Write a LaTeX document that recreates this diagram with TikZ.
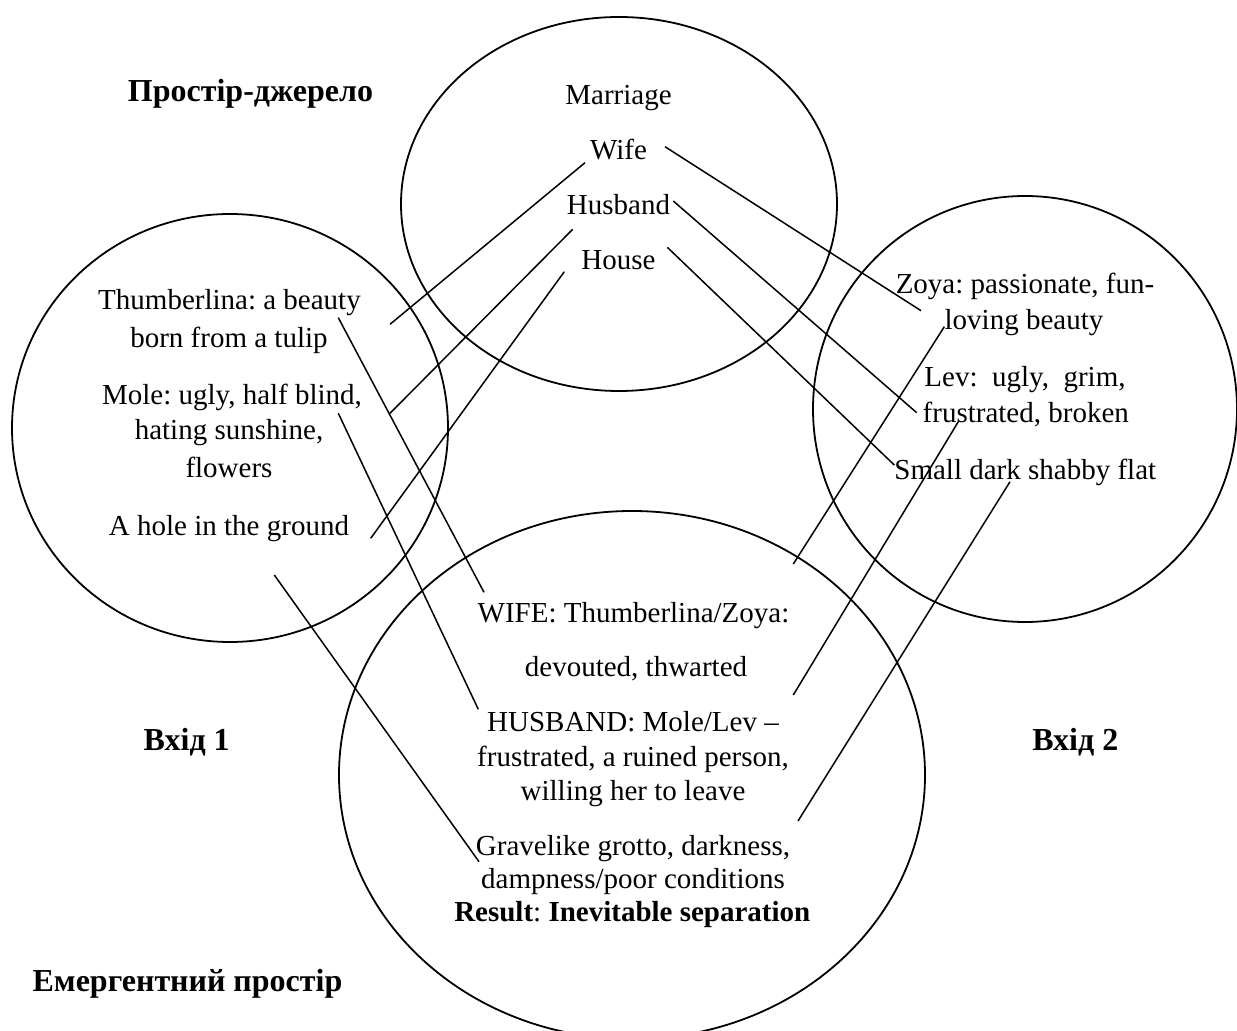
\documentclass[tikz,border=0pt]{standalone}
\usepackage{fontspec}
\setmainfont{Liberation Serif}
\frenchspacing
\tikzset{
  txt/.style={inner sep=0pt, anchor=base, font=\fontsize{14.5}{17}\selectfont},
  head/.style={inner sep=0pt, anchor=base, font=\fontsize{16}{19}\selectfont\bfseries},
  spacering/.style={draw=black, line width=0.9pt},
  link/.style={draw=black, line width=0.75pt},
}
\begin{document}
\begin{tikzpicture}[x=0.5pt,y=-0.5pt]
\useasboundingbox (0,0) rectangle (1237,1031);

% mental spaces
\draw[spacering] (619,204) ellipse [x radius=109pt, y radius=93.5pt];
\draw[spacering] (230,428) ellipse [x radius=109pt, y radius=107pt];
\draw[spacering] (1025,409) ellipse [x radius=106pt, y radius=106.5pt];
\draw[spacering] (632,775) ellipse [x radius=146.5pt, y radius=132pt];

% headings
\node[head] (hsrc) at (250.5,102) {Простір-джерело};
\node[head] (hin1) at (186.7,750) {Вхід 1};
\node[head] (hin2) at (1075.3,750) {Вхід 2};
\node[head] (hem)  at (187.5,991.7) {Емергентний простір};

% source space
\node[txt] (marriage) at (618.5,105) {Marriage};
\node[txt] (wife)     at (618.5,159.5) {Wife};
\node[txt] (husband)  at (618.5,215) {Husband};
\node[txt] (house)    at (618.5,269.5) {House};

% input 1
\node[txt] (thumb1) at (229.5,309.3) {Thumberlina: a beauty};
\node[txt] (thumb2) at (229,347.3) {born from a tulip};
\node[txt] (mole1)  at (232,404.3) {Mole: ugly, half blind,};
\node[txt] (mole2)  at (229,440) {hating sunshine,};
\node[txt] (mole3)  at (229,477.3) {flowers};
\node[txt] (hole)   at (229,536) {A hole in the ground};

% input 2
\node[txt] (zoya1) at (1025,293.3) {Zoya: passionate, fun-};
\node[txt] (zoya2) at (1024,330) {loving beauty};
\node[txt] (lev1)  at (1025,386.7) {Lev:\ \ ugly,\ \ grim,};
\node[txt] (lev2)  at (1025.8,422.3) {frustrated, broken};
\node[txt] (flat)  at (1025.3,480) {Small dark shabby flat};

% blended space
\node[txt] (bw1) at (633.5,622.7) {WIFE: Thumberlina/Zoya:};
\node[txt] (bw2) at (636,676.7) {devouted, thwarted};
\node[txt] (bh1) at (633,731.7) {HUSBAND: Mole/Lev --};
\node[txt] (bh2) at (633,766) {frustrated, a ruined person,};
\node[txt] (bh3) at (633,800) {willing her to leave};
\node[txt] (bg1) at (633,855.5) {Gravelike grotto, darkness,};
\node[txt] (bg2) at (633,888.3) {dampness/poor conditions};
\node[txt] (bres) at (632.3,921.7) {\textbf{Result}: \textbf{Inevitable separation}};

% connector end points
\coordinate (wifeL)  at (585,162.7);   \coordinate (thumbR) at (390,324.3);
\coordinate (husbL)  at (572.7,229.3); \coordinate (moleR)  at (390,413.3);
\coordinate (houseL) at (564.3,271.7); \coordinate (holeR)  at (370.7,538.3);
\coordinate (wifeR)  at (665,146.7);   \coordinate (zoyaL)  at (921,310.7);
\coordinate (husbR)  at (673.3,201);   \coordinate (levL)   at (916.7,412.7);
\coordinate (houseR) at (667.3,247.3); \coordinate (flatL)  at (894.3,465);
\coordinate (thumbD) at (338.3,317.7); \coordinate (bwifeL) at (484,592.3);
\coordinate (moleD)  at (338.3,413.3); \coordinate (bhusL)  at (478.3,709.3);
\coordinate (holeD)  at (274.3,575);   \coordinate (bgravL) at (479,861.7);
\coordinate (zoyaD)  at (944.3,326.7); \coordinate (bwifeR) at (793.3,564);
\coordinate (levD)   at (958.3,421.7); \coordinate (bhusR)  at (793.3,695);
\coordinate (flatD)  at (1010,481.7);  \coordinate (bgravR) at (798,821);

% connectors
\draw[link] (wifeL) -- (thumbR);
\draw[link] (husbL) -- (moleR);
\draw[link] (houseL) -- (holeR);
\draw[link] (wifeR) -- (zoyaL);
\draw[link] (husbR) -- (levL);
\draw[link] (houseR) -- (flatL);
\draw[link] (thumbD) -- (bwifeL);
\draw[link] (moleD) -- (bhusL);
\draw[link] (holeD) -- (bgravL);
\draw[link] (zoyaD) -- (bwifeR);
\draw[link] (levD) -- (bhusR);
\draw[link] (flatD) -- (bgravR);
\end{tikzpicture}
\end{document}
